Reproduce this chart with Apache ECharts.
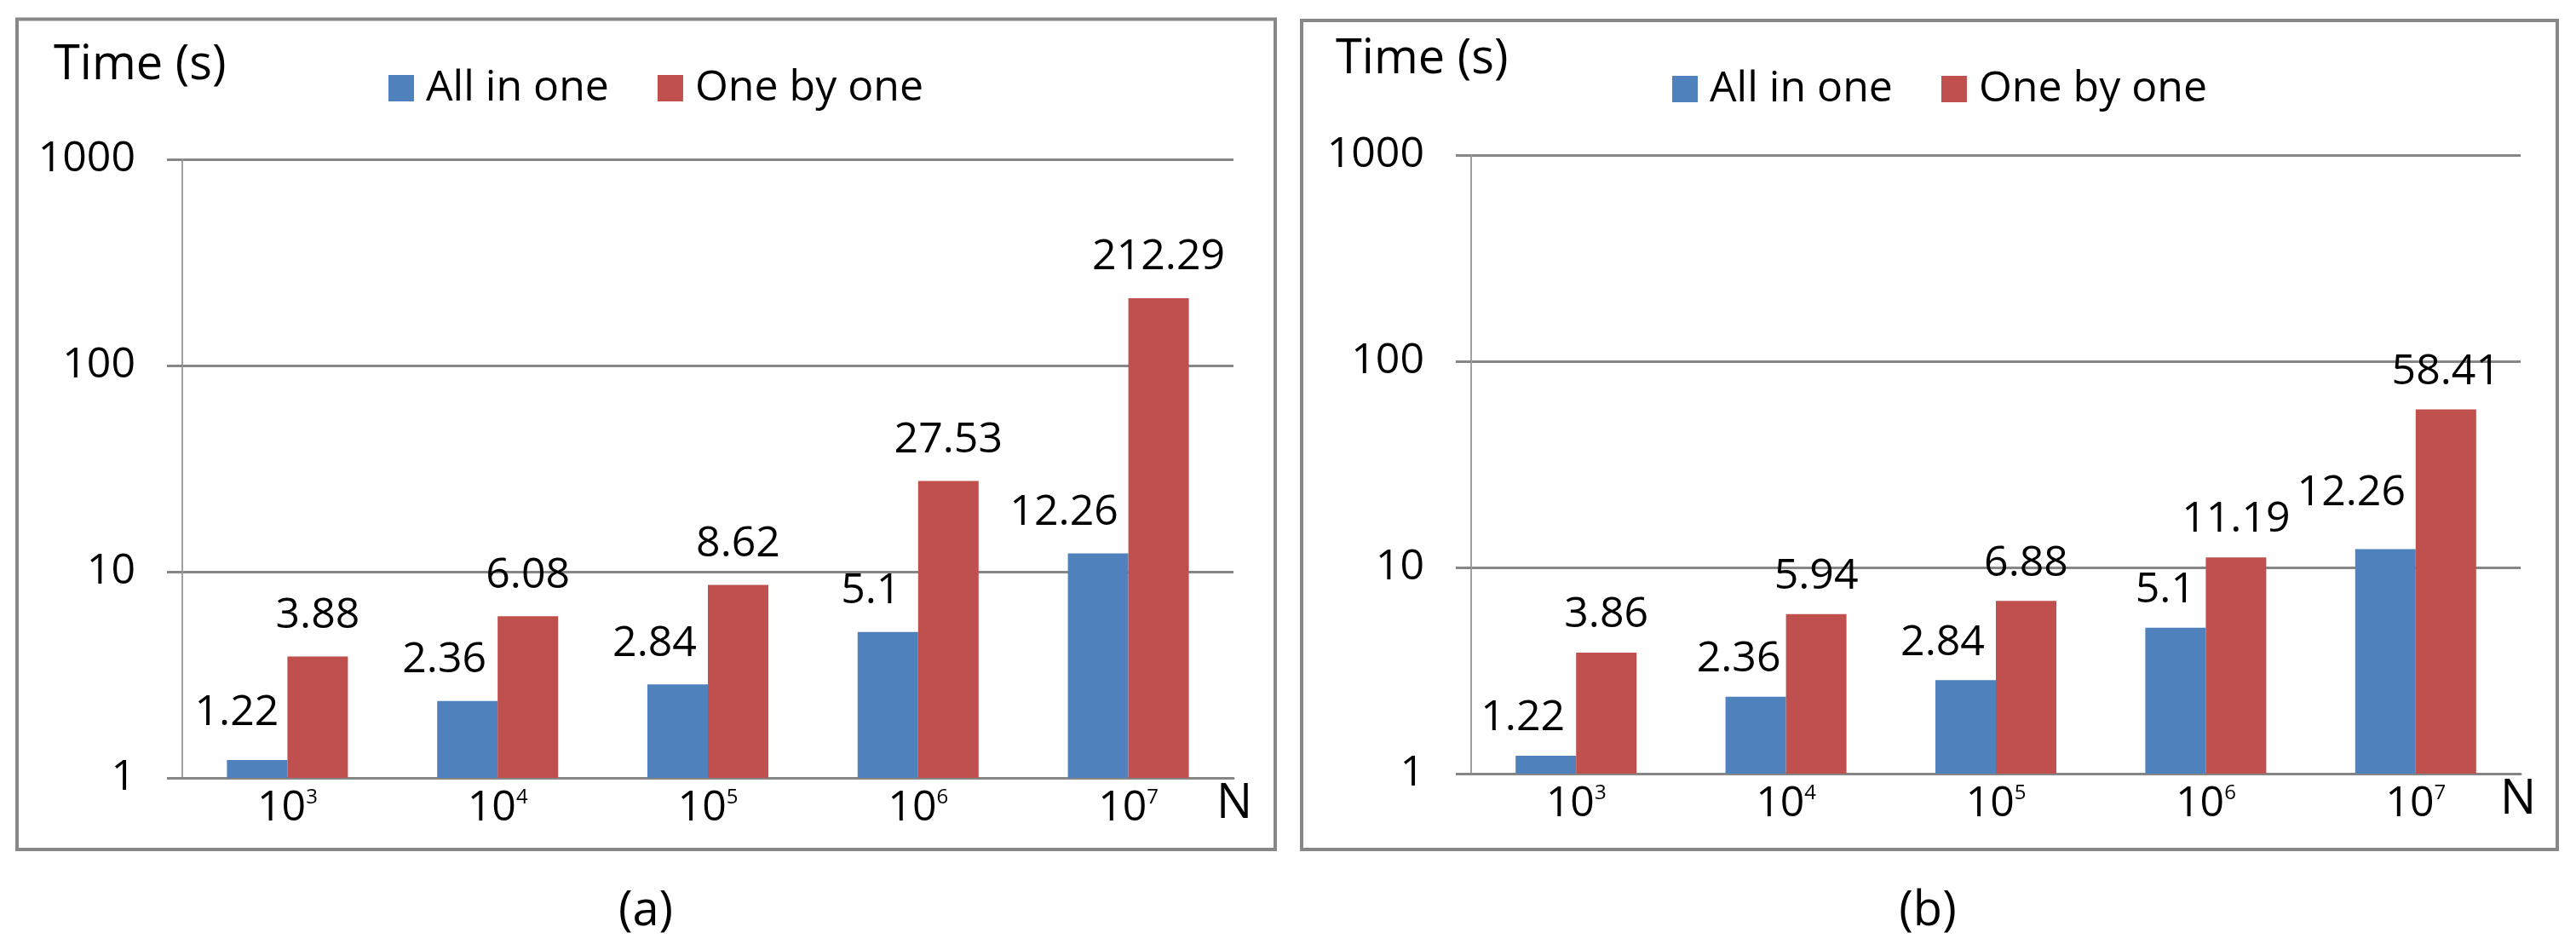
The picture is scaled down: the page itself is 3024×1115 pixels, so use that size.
<!DOCTYPE html>
<html><head><meta charset="utf-8">
<script src="https://cdn.jsdelivr.net/npm/echarts@6/dist/echarts.min.js"></script>
<style>html,body{margin:0;padding:0;background:#fff}#c{width:3024px;height:1115px}</style>
</head><body><div id="c"></div>
<script>
// ---- data ----
const categories = ['10^3', '10^4', '10^5', '10^6', '10^7'];
const seriesNames = ['All in one', 'One by one'];
const allInOneA = [1.22, 2.36, 2.84, 5.1, 12.26];
const oneByOneA = [3.88, 6.08, 8.62, 27.53, 212.29];
const allInOneB = [1.22, 2.36, 2.84, 5.1, 12.26];
const oneByOneB = [3.86, 5.94, 6.88, 11.19, 58.41];
const yTicks = [1, 10, 100, 1000];
const panelLabels = ['(a)', '(b)'];
const yAxisTitle = 'Time (s)';
const xAxisTitle = 'N';

// ---- style / layout ----
const FONT = 'Open Sans';
const BLUE = '#4F81BD', RED = '#C0504D', GRID = '#868686', BORDER = '#878787';
const blueLabelShiftA = [[-24, -7], [-27, 0], [-27, 0], [-20, 0], [-40, 0]];
const blueLabelShiftB = [[-27, 0], [-20, 0], [-27, 0], [-12, 0], [-40, -22]];

const panels = [
  { grid: { left: 214, top: 187, width: 1234, height: 726 }, legendLeft: 456, legendTop: 78.5,
    border: [20, 22.5, 1477, 974.5], title: [63, 77], nPos: [1428, 944], cap: [758, 1070],
    dist: 23, shifts: blueLabelShiftA, values: [allInOneA, oneByOneA] },
  { grid: { left: 1727, top: 182, width: 1232, height: 726 }, legendLeft: 1963, legendTop: 79.5,
    border: [1528, 24, 1474, 973], title: [1568, 70], nPos: [2935, 939], cap: [2263, 1070],
    dist: 19, shifts: blueLabelShiftB, values: [allInOneB, oneByOneB] }
];

const grids = [], xAxes = [], yAxes = [], legends = [], series = [], graphics = [];
panels.forEach((p, i) => {
  grids.push(Object.assign({ containLabel: false }, p.grid));
  xAxes.push({
    type: 'category', gridIndex: i, data: categories,
    axisLine: { show: true, lineStyle: { color: GRID, width: 3 } },
    axisTick: { show: false },
    axisLabel: {
      interval: 0, margin: 11, color: '#000', fontFamily: FONT, fontSize: 50, lineHeight: 50,
      formatter: v => v.replace(/\^(\d+)/, '{sup|$1}'),
      rich: { sup: { fontSize: 24, lineHeight: 30, fontFamily: FONT, color: '#000', verticalAlign: 'top' } }
    }
  });
  yAxes.push({
    type: 'log', logBase: 10, gridIndex: i, min: yTicks[0], max: yTicks[yTicks.length - 1],
    axisLine: { show: true, lineStyle: { color: '#a0a0a0', width: 2 } },
    axisTick: { show: true, length: 18, lineStyle: { color: GRID, width: 3 } },
    splitLine: { show: true, lineStyle: { color: GRID, width: 3 } },
    axisLabel: { margin: 55, color: '#000', fontFamily: FONT, fontSize: 50, padding: [0, 0, 4, 0],
      formatter: v => String(Math.round(v)) }
  });
  legends.push({
    left: p.legendLeft, top: p.legendTop, padding: 0, itemGap: 57, itemWidth: 30, itemHeight: 31,
    icon: 'rect', selectedMode: false,
    textStyle: { fontFamily: FONT, fontSize: 50, color: '#000', padding: [0, 0, 0, 9] },
    data: seriesNames
  });
  const colors = [BLUE, RED];
  p.values.forEach((vals, s) => {
    series.push({
      type: 'bar', name: seriesNames[s], xAxisIndex: i, yAxisIndex: i,
      barWidth: 71, barGap: '0%', itemStyle: { color: colors[s] },
      label: { show: true, position: 'top', distance: p.dist, color: '#000', fontFamily: FONT, fontSize: 50, formatter: '{c}' },
      data: vals.map((v, k) => s === 0 ? { value: v, label: { offset: p.shifts[k] } } : v)
    });
  });
  graphics.push({
    type: 'rect', shape: { x: p.border[0], y: p.border[1], width: p.border[2], height: p.border[3] },
    style: { fill: 'none', stroke: BORDER, lineWidth: 4 }, z: -1
  });
  graphics.push({ type: 'text', x: p.title[0], y: p.title[1],
    style: { text: yAxisTitle, font: '56px "' + FONT + '"', fill: '#000', textAlign: 'left', textVerticalAlign: 'middle' } });
  graphics.push({ type: 'text', x: p.nPos[0], y: p.nPos[1],
    style: { text: xAxisTitle, font: '56px "' + FONT + '"', fill: '#000', textAlign: 'left', textVerticalAlign: 'middle' } });
  graphics.push({ type: 'text', x: p.cap[0], y: p.cap[1],
    style: { text: panelLabels[i], font: '56px "' + FONT + '"', fill: '#000', textAlign: 'center', textVerticalAlign: 'middle' } });
});

const chart = echarts.init(document.getElementById('c'), null, { renderer: 'canvas' });
chart.setOption({
  animation: false,
  backgroundColor: '#fff',
  textStyle: { fontFamily: FONT },
  grid: grids, xAxis: xAxes, yAxis: yAxes, legend: legends, series: series, graphic: graphics
});
</script></body></html>
